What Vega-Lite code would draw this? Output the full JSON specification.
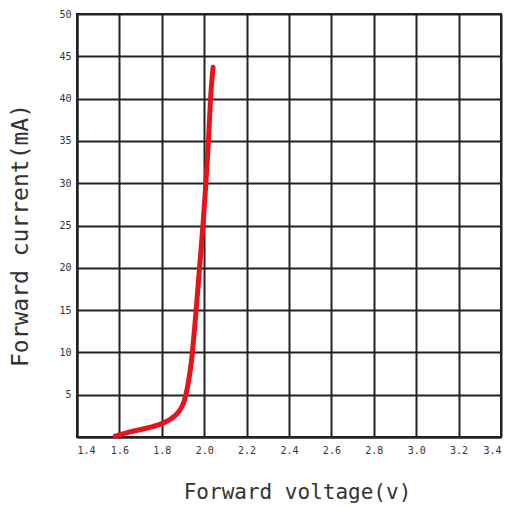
{
  "$schema": "https://vega.github.io/schema/vega-lite/v6.json",
  "autosize": "none",
  "width": 424,
  "height": 423,
  "padding": {"left": 77, "top": 14, "right": 19, "bottom": 70},
  "background": "white",
  "config": {"view": {"stroke": "#222", "strokeWidth": 2}},
  "data": {"values": [
    {"v": 1.58, "i": 0.1},
    {"v": 1.65, "i": 0.6},
    {"v": 1.72, "i": 1.0},
    {"v": 1.79, "i": 1.5},
    {"v": 1.84, "i": 2.1},
    {"v": 1.88, "i": 3.0},
    {"v": 1.905, "i": 4.2},
    {"v": 1.922, "i": 6},
    {"v": 1.94, "i": 9},
    {"v": 1.962, "i": 15},
    {"v": 1.978, "i": 20},
    {"v": 1.994, "i": 25},
    {"v": 2.008, "i": 30},
    {"v": 2.02, "i": 35},
    {"v": 2.03, "i": 40},
    {"v": 2.042, "i": 43.7}
  ]},
  "mark": {"type": "line", "color": "#e8121a", "strokeWidth": 5, "strokeCap": "round", "interpolate": "monotone"},
  "encoding": {
    "x": {
      "field": "v", "type": "quantitative",
      "scale": {"domain": [1.4, 3.4], "nice": false, "zero": false},
      "axis": {
        "values": [1.4, 1.6, 1.8, 2.0, 2.2, 2.4, 2.6, 2.8, 3.0, 3.2, 3.4],
        "format": ".1f",
        "title": "Forward voltage(v)",
        "titleFont": "DejaVu Sans Mono", "titleFontSize": 21, "titleFontWeight": "normal", "titleColor": "#333",
        "titleX": 220, "titleY": 55, "titleBaseline": "middle",
        "labelFont": "DejaVu Sans Mono", "labelFontSize": 10, "labelColor": "#333", "labelPadding": 8,
        "tickSize": 0, "domainColor": "#222", "domainWidth": 2,
        "grid": true, "gridColor": "#222", "gridWidth": 2, "gridOpacity": 1
      }
    },
    "y": {
      "field": "i", "type": "quantitative",
      "scale": {"domain": [0, 50], "nice": false},
      "axis": {
        "values": [0, 5, 10, 15, 20, 25, 30, 35, 40, 45, 50],
        "labelExpr": "datum.value == 0 ? '' : datum.label",
        "title": "Forward current(mA)",
        "titleFont": "DejaVu Sans Mono", "titleFontSize": 23, "titleFontWeight": "normal", "titleColor": "#333",
        "titleX": -57, "titleY": 221, "titleBaseline": "middle", "titleAngle": -90,
        "labelFont": "DejaVu Sans Mono", "labelFontSize": 10, "labelColor": "#333", "labelPadding": 6,
        "tickSize": 0, "domainColor": "#222", "domainWidth": 2,
        "grid": true, "gridColor": "#222", "gridWidth": 2, "gridOpacity": 1
      }
    }
  }
}
